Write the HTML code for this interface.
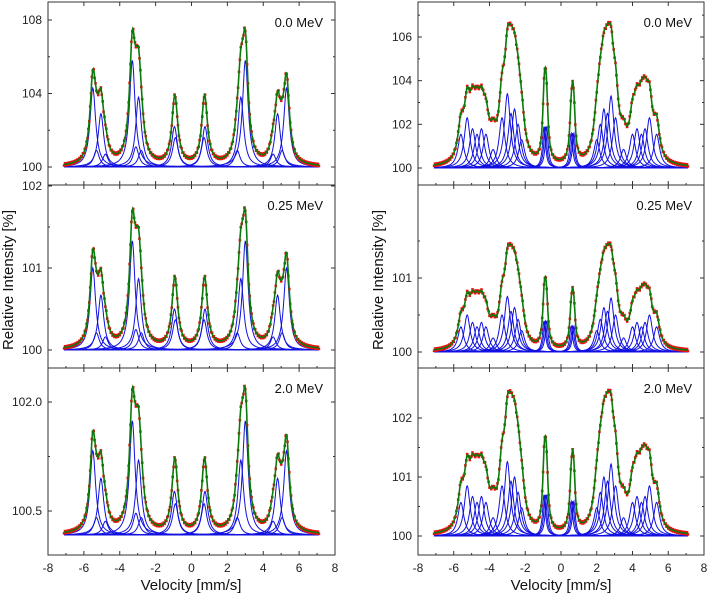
<!DOCTYPE html>
<html><head><meta charset="utf-8">
<style>
body{margin:0;background:#fff;}
svg{display:block;font-family:"Liberation Sans",sans-serif;}
</style></head>
<body>
<svg id="chart" width="709" height="595" viewBox="0 0 709 595"></svg>
<script>
// ---- data ----
const centersL = [-5.5,-5.3,-5.05,-4.8,-3.3,-3.1,-2.95,-2.8,-0.95,-0.9,0.75,0.7,2.55,2.75,3.0,4.55,4.8,5.05,5.3];
const heightsL1 = [4.3,0.9,2.9,0.7,5.8,1.1,3.8,0.9,2.2,1.6,2.2,1.6,0.9,3.8,5.8,0.7,2.9,0.9,4.3];
const heightsL2 = [1.0,0.21,0.67,0.16,1.33,0.25,0.87,0.21,0.5,0.37,0.5,0.37,0.21,0.87,1.33,0.16,0.67,0.21,1.0];
const heightsL3 = [1.16,0.24,0.78,0.19,1.57,0.3,1.03,0.24,0.6,0.43,0.6,0.43,0.24,1.03,1.57,0.19,0.78,0.24,1.16];
const centersR = [-5.6,-5.25,-4.95,-4.7,-4.45,-4.2,-3.8,-3.3,-3.0,-2.8,-2.6,-2.4,-2.2,-0.95,-0.88,-0.8,0.57,0.65,0.72,2.0,2.2,2.4,2.6,2.8,3.05,3.5,4.0,4.25,4.5,4.7,4.95,5.35];
const widthsR = [0.4,0.4,0.4,0.4,0.4,0.4,0.4,0.4,0.4,0.4,0.4,0.4,0.4,0.2,0.2,0.2,0.2,0.2,0.2,0.4,0.4,0.4,0.4,0.4,0.4,0.4,0.4,0.4,0.4,0.4,0.4,0.4];
const heightsR1 = [1.55,2.3,1.8,1.55,1.8,1.55,0.85,2.3,3.4,2.5,2.7,2.0,1.3,1.9,1.9,1.9,1.6,1.6,1.6,1.3,2.0,2.7,2.5,3.3,2.3,0.85,1.55,1.8,1.55,1.8,2.3,1.55];
const heightsR2 = [0.34,0.5,0.4,0.34,0.4,0.34,0.19,0.5,0.75,0.55,0.6,0.44,0.29,0.42,0.42,0.42,0.35,0.35,0.35,0.29,0.44,0.6,0.55,0.73,0.5,0.19,0.34,0.4,0.34,0.4,0.5,0.34];
const heightsR3 = [0.57,0.85,0.67,0.57,0.67,0.57,0.31,0.85,1.26,0.93,1.0,0.74,0.48,0.7,0.7,0.7,0.59,0.59,0.59,0.48,0.74,1.0,0.93,1.22,0.85,0.31,0.57,0.67,0.57,0.67,0.85,0.57];
const xTicks = [-8,-6,-4,-2,0,2,4,6,8];
const doseLabels = ["0.0 MeV","0.25 MeV","2.0 MeV"];

const NS="http://www.w3.org/2000/svg";
const svg=document.getElementById('chart');
function mk(tag,attrs,parent){const e=document.createElementNS(NS,tag);for(const k in attrs)e.setAttribute(k,attrs[k]);(parent||svg).appendChild(e);return e;}

const panels=[
 {x0:48,x1:335,top:2,bot:185,v0:100,y0:167,v1:108,y1:20,base:100,ticks:[100,104,108],minor:[102,106],lab:["100","104","108"],c:centersL,h:heightsL1,w:null,label:0,side:'l'},
 {x0:48,x1:335,top:185,bot:368,v0:100,y0:350,v1:101,y1:268,base:100,ticks:[100,101,102],minor:[100.5,101.5],lab:["100","101","102"],c:centersL,h:heightsL2,w:null,label:1,side:'l'},
 {x0:48,x1:335,top:368,bot:555,v0:100.5,y0:511,v1:102,y1:402,base:100.17,ticks:[100.5,102],minor:[101.25],lab:["100.5","102.0"],c:centersL,h:heightsL3,w:null,label:2,side:'l'},
 {x0:418,x1:704,top:2,bot:185,v0:100,y0:168,v1:106,y1:37,base:100,ticks:[100,102,104,106],minor:[101,103,105,107],lab:["100","102","104","106"],c:centersR,h:heightsR1,w:widthsR,label:0,side:'r'},
 {x0:418,x1:704,top:185,bot:368,v0:100,y0:352,v1:101,y1:278,base:100,ticks:[100,101],minor:[100.5,101.5],lab:["100","101"],c:centersR,h:heightsR2,w:widthsR,label:1,side:'r'},
 {x0:418,x1:704,top:368,bot:555,v0:100,y0:536,v1:101,y1:477,base:100,ticks:[100,101,102],minor:[100.5,101.5],lab:["100","101","102"],c:centersR,h:heightsR3,w:widthsR,label:2,side:'r'}
];

panels.forEach((p,pi)=>{
 const g=mk('g',{});
 
 
 const X=v=>p.x0+(v+8)*(p.x1-p.x0)/16;
 const Y=v=>p.y0+(v-p.v0)*(p.y1-p.y0)/(p.v1-p.v0);
 const lor=(v,i)=>{const gam=(p.w?p.w[i]:0.38)/2;const d=(v-p.c[i])/gam;return p.h[i]/(1+d*d);};
 const vs=[];for(let v=-7.1;v<=7.1001;v+=0.025)vs.push(v);
 const cg=mk('g',{},g);
 
 
 p.c.forEach((c,i)=>{
   let d='';vs.forEach((v,k)=>{d+=(k?'L':'M')+X(v).toFixed(1)+' '+Y(p.base+lor(v,i)).toFixed(1);});
   const pa=mk('path',{d:d,fill:'none',stroke:'#1010e0','stroke-width':1},cg);
   
   
 });
 const tot=v=>{let s=0;for(let i=0;i<p.c.length;i++)s+=lor(v,i);return s;};
 const dg=mk('g',{},g);
 
 
 for(let k=0;k<vs.length;k+=2){const v=vs[k];
   mk('rect',{x:(X(v)-1.3).toFixed(1),y:(Y(p.base+tot(v))-1.3-(k%4?1:-1)).toFixed(1),width:2.6,height:2.6,fill:'#ee1111'},dg);}
 let d='';vs.forEach((v,k)=>{d+=(k?'L':'M')+X(v).toFixed(1)+' '+Y(p.base+tot(v)).toFixed(1);});
 const tp=mk('path',{d:d,fill:'none',stroke:'#0a7a0a','stroke-width':1.6},g);
 
 
 const fr=mk('rect',{x:p.x0,y:p.top,width:p.x1-p.x0,height:p.bot-p.top,fill:'none',stroke:'#333','stroke-width':1},g);
 
 
 xTicks.forEach(t=>{const x=X(t);
   mk('line',{x1:x,x2:x,y1:p.bot,y2:p.bot-4,stroke:'#333'},g);
   mk('line',{x1:x,x2:x,y1:p.top,y2:p.top+4,stroke:'#333'},g);
   if(t<8){mk('line',{x1:X(t+1),x2:X(t+1),y1:p.bot,y2:p.bot-2,stroke:'#333'},g);}
   if(pi%3==2){const tx=mk('text',{x:x,y:572,'font-size':12,'text-anchor':'middle',fill:'#222'},g);tx.textContent=String(t);
     }
 });
 p.ticks.forEach((t,i)=>{const y=Y(t);
   mk('line',{x1:p.x0,x2:p.x0+4,y1:y,y2:y,stroke:'#333'},g);
   mk('line',{x1:p.x1,x2:p.x1-4,y1:y,y2:y,stroke:'#333'},g);
   const tx=mk('text',{x:p.x0-6,y:y+4,'font-size':12,'text-anchor':'end',fill:'#222'},g);tx.textContent=p.lab[i];
   
 });
 p.minor.forEach(t=>{const y=Y(t);if(y<p.top||y>p.bot)return;
   mk('line',{x1:p.x0,x2:p.x0+2,y1:y,y2:y,stroke:'#333'},g);
   mk('line',{x1:p.x1,x2:p.x1-2,y1:y,y2:y,stroke:'#333'},g);});
 const lb=mk('text',{x:p.x1-12,y:p.top+25,'font-size':13,'text-anchor':'end',fill:'#111'},g);
 lb.textContent=doseLabels[p.label];
 
 
});
[[13,280,'l'],[383,280,'r']].forEach(a=>{
 const t=mk('text',{x:a[0],y:a[1],'font-size':15,'text-anchor':'middle',transform:'rotate(-90 '+a[0]+' '+a[1]+')',fill:'#111'});
 t.textContent='Relative Intensity [%]';
 
 
});
[[191,'l'],[561,'r']].forEach(a=>{
 const t=mk('text',{x:a[0],y:590,'font-size':15,'text-anchor':'middle',fill:'#111'});
 t.textContent='Velocity [mm/s]';
 
 
});
</script>
</body></html>
